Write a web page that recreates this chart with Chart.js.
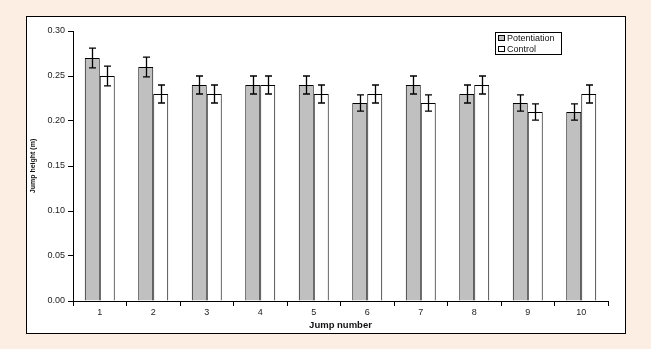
<!DOCTYPE html>
<html><head><meta charset="utf-8">
<script src="https://cdn.jsdelivr.net/npm/chart.js@4"></script>
<style>
html,body{margin:0;padding:0;background:#fdeee3;}
#wrap{position:absolute;left:0;top:0;width:651px;height:349px;}
</style></head>
<body>
<div id="wrap"><canvas id="c" width="651" height="349"></canvas></div>
<script>
const categories = ['1','2','3','4','5','6','7','8','9','10'];
const potentiation = [0.27,0.26,0.24,0.24,0.24,0.22,0.24,0.23,0.22,0.21];
const control = [0.25,0.23,0.23,0.24,0.23,0.23,0.22,0.24,0.21,0.23];
const potentiationErr = [0.011,0.011,0.01,0.01,0.01,0.009,0.01,0.01,0.009,0.009];
const controlErr = [0.011,0.01,0.01,0.01,0.01,0.01,0.009,0.01,0.009,0.01];
const yTicks = [0,0.05,0.10,0.15,0.20,0.25,0.30];

const FONT = '"Liberation Sans", Arial, sans-serif';

const frame = {
  id:'frame',
  beforeDraw(chart){
    const ctx = chart.ctx;
    ctx.save();
    ctx.fillStyle = '#fdeee3';
    ctx.fillRect(0,0,chart.width,chart.height);
    ctx.fillStyle = '#ffffff';
    ctx.fillRect(26,16,599,317);
    ctx.strokeStyle = '#000';
    ctx.lineWidth = 1;
    ctx.strokeRect(26.5,16.5,599,317);
    ctx.restore();
  }
};

const errorBars = {
  id:'errorBars',
  afterDatasetsDraw(chart){
    const ctx = chart.ctx, y = chart.scales.y;
    const errs = [potentiationErr, controlErr];
    ctx.save();
    ctx.strokeStyle = '#000';
    ctx.lineWidth = 1.3;
    chart.data.datasets.forEach((ds, di) => {
      const meta = chart.getDatasetMeta(di);
      meta.data.forEach((bar, i) => {
        const v = ds.data[i], e = errs[di][i];
        const x = Math.round(bar.x) + 0.5;
        const yt = y.getPixelForValue(v + e), yb = y.getPixelForValue(v - e);
        ctx.beginPath();
        ctx.moveTo(x, yt); ctx.lineTo(x, yb);
        ctx.moveTo(x-3.5, yt); ctx.lineTo(x+3.5, yt);
        ctx.moveTo(x-3.5, yb); ctx.lineTo(x+3.5, yb);
        ctx.stroke();
      });
    });
    ctx.restore();
  }
};

const legendBox = {
  id:'legendBox',
  afterDraw(chart){
    const ctx = chart.ctx;
    const x0 = 495, y0 = 32, w = 66, h = 22;
    ctx.save();
    ctx.fillStyle = '#fff';
    ctx.fillRect(x0, y0, w, h);
    ctx.strokeStyle = '#000';
    ctx.lineWidth = 1;
    ctx.strokeRect(x0+0.5, y0+0.5, w, h);
    ctx.font = '9px ' + FONT;
    ctx.textBaseline = 'middle';
    chart.data.datasets.forEach((ds, i) => {
      const cy = y0 + 6 + i * 11;
      ctx.fillStyle = ds.backgroundColor;
      ctx.fillRect(x0+3.5, cy-3, 6, 5);
      ctx.strokeStyle = '#000';
      ctx.strokeRect(x0+3.5, cy-2.5, 6, 5);
      ctx.fillStyle = '#111';
      ctx.fillText(ds.label, x0+12, cy+0.5);
    });
    ctx.restore();
  }
};

new Chart(document.getElementById('c'), {
  type:'bar',
  data:{
    labels: categories,
    datasets:[
      {label:'Potentiation', data: potentiation, backgroundColor:'#c0c0c0', borderColor:'#000', borderWidth:1, borderSkipped:'bottom'},
      {label:'Control', data: control, backgroundColor:'#ffffff', borderColor:'#000', borderWidth:1, borderSkipped:'bottom'}
    ]
  },
  options:{
    responsive:false,
    animation:false,
    devicePixelRatio:1,
    layout:{padding:{left:29, top:31, right:43, bottom:18}},
    datasets:{bar:{barPercentage:1.0, categoryPercentage:0.56}},
    plugins:{legend:{display:false}, tooltip:{enabled:false}},
    scales:{
      x:{
        grid:{drawOnChartArea:false, drawTicks:true, tickLength:5, color:'#000', offset:true},
        border:{color:'#000', width:1},
        ticks:{color:'#222', font:{family:FONT, size:9}, padding:1, maxRotation:0},
        title:{display:true, text:'Jump number', color:'#111', font:{family:FONT, size:9.5, weight:'bold'}, padding:{top:0,bottom:0}},
        afterFit(s){ s.height = 30; }
      },
      y:{
        min:0, max:0.30,
        afterBuildTicks(s){ s.ticks = yTicks.map(v=>({value:v})); },
        grid:{drawOnChartArea:false, drawTicks:true, tickLength:5, color:'#000'},
        border:{color:'#000', width:1},
        ticks:{color:'#222', font:{family:FONT, size:9}, padding:3, callback:v=>v.toFixed(2)},
        title:{display:true, text:'Jump height (m)', color:'#111', font:{family:FONT, size:7, weight:'bold'}, padding:{top:0,bottom:0}},
        afterFit(s){ s.width = 44; }
      }
    }
  },
  plugins:[frame, errorBars, legendBox]
});
</script>
</body></html>
